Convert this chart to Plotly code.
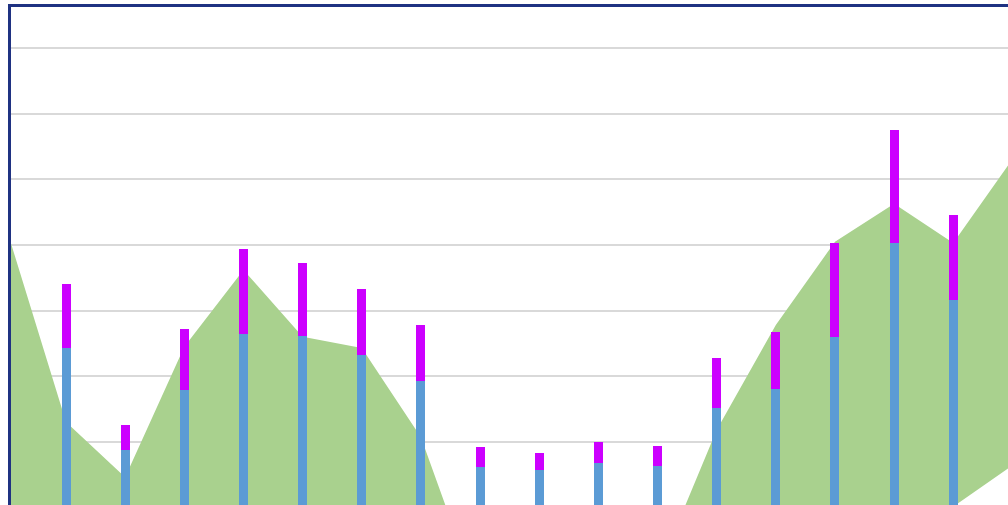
import plotly.graph_objects as go

# Category positions (month index) and series values
categories = list(range(18))
bar_categories = list(range(17))

base_values = [34.0, 34.3, 18.8, 27.9, 36.5, 36.1, 33.2, 29.2, 16.1, 15.7, 16.8, 16.3, 25.1, 28.0, 35.9, 50.3, 41.6]
extra_values = [49.0, 9.7, 3.7, 9.3, 12.9, 11.2, 10.1, 8.6, 3.1, 2.6, 3.2, 3.1, 7.6, 8.7, 14.4, 17.3, 13.0]

band_upper = [52.3, 23.0, 14.6, 34.5, 46.2, 36.0, 34.3, 20.7, -4.4, -8.0, -7.2, 0.1, 21.8, 37.8, 50.5, 56.3, 50.3, 63.1]
band_lower = [-10.0] * 16 + [10.1, 16.4]

GREEN = "#A9D18E"
BLUE = "#5B9BD5"
MAGENTA = "#CC00FF"
FRAME = "#1F3282"

X_RANGE = [0.070, 16.925]
Y_RANGE = [10.35, 86.30]

fig = go.Figure()

# Shaded band: invisible lower edge, then green fill up to the upper edge
fig.add_trace(go.Scatter(
    x=categories, y=band_lower, mode="lines",
    line=dict(width=0, color=GREEN), showlegend=False, hoverinfo="skip",
))
fig.add_trace(go.Scatter(
    x=categories, y=band_upper, mode="lines",
    line=dict(width=0, color=GREEN), fill="tonexty", fillcolor=GREEN,
    showlegend=False,
))

# Stacked bars live on overlay axes so they paint above the band
fig.add_trace(go.Bar(
    x=bar_categories, y=base_values, width=0.152,
    marker=dict(color=BLUE, line=dict(width=0)), showlegend=False,
    xaxis="x2", yaxis="y2",
))
fig.add_trace(go.Bar(
    x=bar_categories, y=extra_values, width=0.152,
    marker=dict(color=MAGENTA, line=dict(width=0)), showlegend=False,
    xaxis="x2", yaxis="y2",
))

hidden = dict(showgrid=False, zeroline=False, showticklabels=False,
              ticks="", showline=False)

fig.update_layout(
    width=1008, height=505,
    margin=dict(l=11, r=0, t=7, b=0, pad=0),
    paper_bgcolor="white", plot_bgcolor="white",
    barmode="stack", bargap=0,
    showlegend=False,
    xaxis=dict(
        range=X_RANGE, side="top",
        showgrid=False, zeroline=False, showticklabels=False, ticks="",
        showline=True, linecolor=FRAME, linewidth=2.5,
    ),
    yaxis=dict(
        range=Y_RANGE, dtick=10, tick0=0,
        showgrid=True, gridcolor="#D9D9D9", gridwidth=2,
        zeroline=False, showticklabels=False, ticks="",
        showline=True, linecolor=FRAME, linewidth=2.5,
    ),
    xaxis2=dict(range=X_RANGE, overlaying="x", **hidden),
    yaxis2=dict(range=Y_RANGE, overlaying="y", **hidden),
)

fig.write_html("out.html")
